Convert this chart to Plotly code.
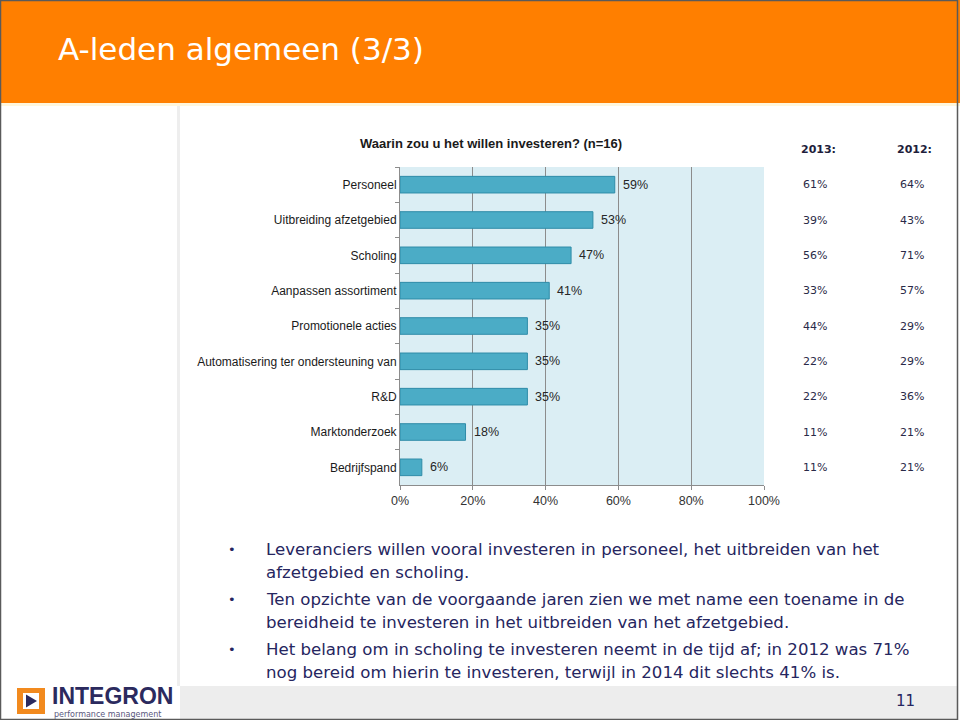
import plotly.graph_objects as go

# ---- data ----
categories = ["Personeel", "Uitbreiding afzetgebied", "Scholing", "Aanpassen assortiment",
              "Promotionele acties", "Automatisering ter ondersteuning van", "R&D",
              "Marktonderzoek", "Bedrijfspand"]
values_2014 = [59, 53, 47, 41, 35, 35, 35, 18, 6]
values_2013 = [61, 39, 56, 33, 44, 22, 22, 11, 11]
values_2012 = [64, 43, 71, 57, 29, 29, 36, 21, 21]
x_ticks = [0, 20, 40, 60, 80, 100]
x_tick_labels = ["0%", "20%", "40%", "60%", "80%", "100%"]

slide_title = "A-leden algemeen (3/3)"
chart_title = "Waarin zou u het willen investeren? (n=16)"
bullets = [
    ["Leveranciers willen vooral investeren in personeel, het uitbreiden van het",
     "afzetgebied en scholing."],
    ["Ten opzichte van de voorgaande jaren zien we met name een toename in de",
     "bereidheid te investeren in het uitbreiden van het afzetgebied."],
    ["Het belang om in scholing te investeren neemt in de tijd af; in 2012 was 71%",
     "nog bereid om hierin te investeren, terwijl in 2014 dit slechts 41% is."],
]
page_number = "11"

# ---- layout geometry (pixels) ----
W, H = 960, 720
ML, MR, MT, MB = 400, 196, 167, 235
PW = W - ML - MR
PH = H - MT - MB


def X(px):
    return (px - ML) / PW


def Y(py):
    return (H - MB - py) / PH


NAVY = "#262660"
ORANGE = "#FF7F00"

fig = go.Figure()
fig.add_trace(go.Bar(
    y=categories, x=values_2014, orientation="h",
    marker=dict(color="#4BACC6", line=dict(color="#2F8CA8", width=1)),
    width=0.47, hoverinfo="skip",
))

shapes = []
# header band
shapes.append(dict(type="rect", xref="paper", yref="paper", x0=X(0), x1=X(960), y0=Y(103), y1=Y(0),
                   fillcolor=ORANGE, line=dict(width=0), layer="below"))
shapes.append(dict(type="rect", xref="paper", yref="paper", x0=X(0), x1=X(960), y0=Y(106), y1=Y(103),
                   fillcolor="#FFF6DC", line=dict(width=0), layer="below"))
# left vertical separator
shapes.append(dict(type="rect", xref="paper", yref="paper", x0=X(177), x1=X(180), y0=Y(686), y1=Y(106),
                   fillcolor="#EEEEEE", line=dict(width=0), layer="below"))
# footer band
shapes.append(dict(type="rect", xref="paper", yref="paper", x0=X(180), x1=X(957), y0=Y(719), y1=Y(686),
                   fillcolor="#EDEDED", line=dict(width=0), layer="below"))
# slide border
shapes.append(dict(type="rect", xref="paper", yref="paper", x0=X(0.5), x1=X(957.5), y0=Y(719.5), y1=Y(0.5),
                   line=dict(color="#5A5A5A", width=1.5)))
# logo icon
shapes.append(dict(type="rect", xref="paper", yref="paper", x0=X(17), x1=X(45), y0=Y(714), y1=Y(688),
                   fillcolor="#F28A1E", line=dict(width=0)))
shapes.append(dict(type="rect", xref="paper", yref="paper", x0=X(23), x1=X(39), y0=Y(709), y1=Y(693),
                   fillcolor="white", line=dict(width=0)))
shapes.append(dict(type="path", xref="paper", yref="paper",
                   path=f"M {X(26)} {Y(694.5)} L {X(37)} {Y(701)} L {X(26)} {Y(707.5)} Z",
                   fillcolor="#2B2A5E", line=dict(width=0)))

annotations = []
annotations.append(dict(text=slide_title, xref="paper", yref="paper", x=X(56), y=Y(49),
                        xanchor="left", yanchor="middle", showarrow=False,
                        font=dict(family="DejaVu Sans", size=31, color="white")))
annotations.append(dict(text=f"<b>{chart_title}</b>", xref="paper", yref="paper", x=X(491), y=Y(144),
                        xanchor="center", yanchor="middle", showarrow=False,
                        font=dict(family="Liberation Sans, Arial", size=13, color="#1A1A1A")))
# bar value labels
for cat, v in zip(categories, values_2014):
    annotations.append(dict(text=f"{v}%", xref="x", yref="y", x=v, y=cat, xshift=6,
                            xanchor="left", yanchor="middle", showarrow=False,
                            font=dict(family="Liberation Sans, Arial", size=12.5, color="#262626")))
# right columns
for hdr, cx in (("2013:", 818), ("2012:", 914)):
    annotations.append(dict(text=f"<b>{hdr}</b>", xref="paper", yref="paper", x=X(cx), y=Y(150),
                            xanchor="center", yanchor="middle", showarrow=False,
                            font=dict(family="DejaVu Sans", size=11, color="#1E1E3C")))
for cat, v13, v12 in zip(categories, values_2013, values_2012):
    annotations.append(dict(text=f"{v13}%", xref="paper", yref="y", x=X(829), y=cat,
                            xanchor="right", yanchor="middle", showarrow=False,
                            font=dict(family="DejaVu Sans", size=11, color="#2A2A48")))
    annotations.append(dict(text=f"{v12}%", xref="paper", yref="y", x=X(926), y=cat,
                            xanchor="right", yanchor="middle", showarrow=False,
                            font=dict(family="DejaVu Sans", size=11, color="#2A2A48")))
# bullets
line_y = [[549, 572], [599, 622], [649, 672]]
for lines, ys in zip(bullets, line_y):
    annotations.append(dict(text="•", xref="paper", yref="paper", x=X(232), y=Y(ys[0]),
                            xanchor="center", yanchor="middle", showarrow=False,
                            font=dict(family="DejaVu Sans", size=13, color=NAVY)))
    for txt, yy in zip(lines, ys):
        annotations.append(dict(text=txt, xref="paper", yref="paper", x=X(264), y=Y(yy),
                                xanchor="left", yanchor="middle", showarrow=False,
                                font=dict(family="DejaVu Sans", size=16.6, color=NAVY)))
# logo text
annotations.append(dict(text="<b>INTEGRON</b>", xref="paper", yref="paper", x=X(50), y=Y(696),
                        xanchor="left", yanchor="middle", showarrow=False,
                        font=dict(family="Liberation Sans, Arial", size=23, color="#2B2A5E")))
annotations.append(dict(text="performance management", xref="paper", yref="paper", x=X(52), y=Y(714.5),
                        xanchor="left", yanchor="middle", showarrow=False,
                        font=dict(family="DejaVu Sans", size=8, color="#5A587E")))
annotations.append(dict(text=page_number, xref="paper", yref="paper", x=X(905), y=Y(701),
                        xanchor="center", yanchor="middle", showarrow=False,
                        font=dict(family="DejaVu Sans", size=15, color=NAVY)))

fig.update_layout(
    width=W, height=H, autosize=False,
    margin=dict(l=ML, r=MR, t=MT, b=MB, pad=0),
    paper_bgcolor="white", plot_bgcolor="#DBEEF4",
    showlegend=False, bargap=0.53,
    shapes=shapes, annotations=annotations,
    xaxis=dict(range=[0, 100], tickvals=x_ticks, ticktext=x_tick_labels,
               showgrid=True, gridcolor="#8C8C8C", gridwidth=1,
               showline=True, linecolor="#8C8C8C", linewidth=1,
               ticks="outside", ticklen=4, tickcolor="#8C8C8C",
               zeroline=False, fixedrange=True,
               tickfont=dict(family="Liberation Sans, Arial", size=12.5, color="#333333")),
    yaxis=dict(categoryorder="array", categoryarray=categories, autorange="reversed",
               showline=True, linecolor="#8C8C8C", linewidth=1,
               ticks="outside", ticklen=4, tickcolor="#8C8C8C", tickson="boundaries",
               showgrid=False, fixedrange=True,
               tickfont=dict(family="Liberation Sans, Arial", size=12, color="#1A1A1A")),
)

fig.write_html("out.html", config={"displayModeBar": False},
               post_script="document.body.style.margin='0';document.body.style.overflow='hidden';")
